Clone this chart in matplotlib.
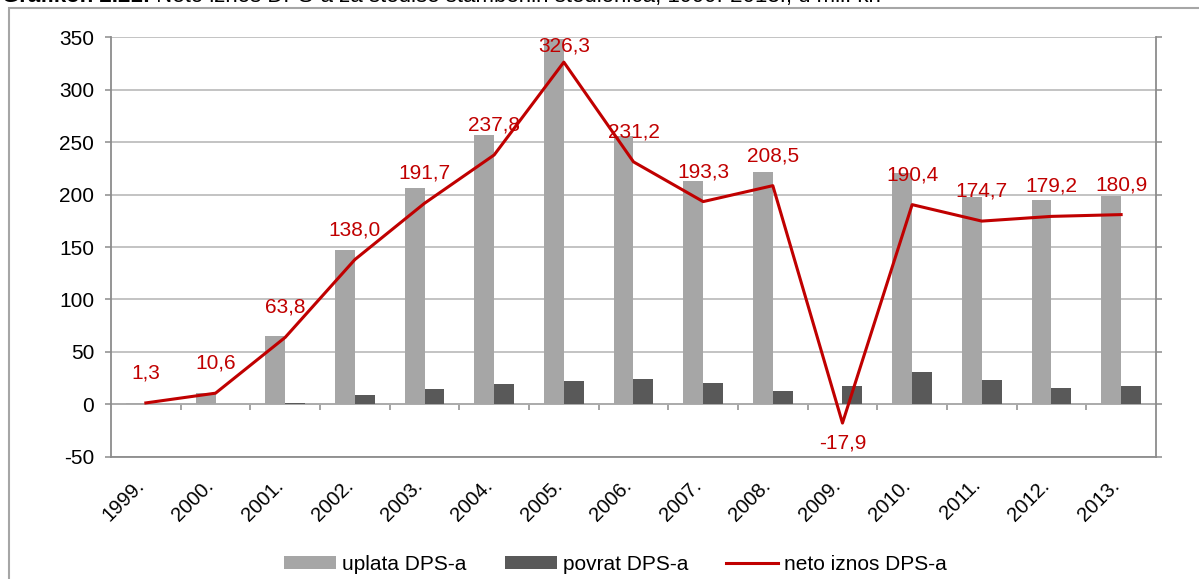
import matplotlib
matplotlib.use("Agg")
import matplotlib.pyplot as plt
import matplotlib.transforms as mtransforms
from matplotlib.patches import Rectangle
import numpy as np

plt.rcParams["font.family"] = ["Liberation Sans", "DejaVu Sans"]
plt.rcParams["axes.unicode_minus"] = False

# podaci (mil. kn)
godine = ["1999.", "2000.", "2001.", "2002.", "2003.", "2004.", "2005.", "2006.",
          "2007.", "2008.", "2009.", "2010.", "2011.", "2012.", "2013."]
uplata = [1.3, 10.6, 65.3, 146.9, 206.0, 257.2, 348.5, 255.7, 213.3, 221.2,
          0.0, 220.9, 197.7, 195.1, 198.7]
povrat = [0.0, 0.0, 1.5, 8.9, 14.3, 19.4, 22.2, 24.5, 20.0, 12.7,
          17.8, 30.5, 23.0, 15.9, 17.8]
neto = [1.3, 10.6, 63.8, 138.0, 191.7, 237.8, 326.3, 231.2, 193.3, 208.5,
        -17.9, 190.4, 174.7, 179.2, 180.9]

naslov_bold = "Grafikon 2.21:"
naslov_ostatak = " Neto iznos DPS-a za štediše stambenih štedionica, 1999.-2013., u mil. kn"

SIVA_SVIJETLA = "#A6A6A6"
SIVA_TAMNA = "#595959"
CRVENA = "#C00000"
OS_BOJA = "#8C8C8C"
FS = 15

fig = plt.figure(figsize=(11.99, 5.79), dpi=100)
ax = fig.add_axes([0.0926, 0.2112, 0.8715, 0.7244])

x = np.arange(len(godine))
w = 1 / 3.5
b1 = ax.bar(x - w / 2, uplata, w, color=SIVA_SVIJETLA, label="uplata DPS-a", zorder=2)
b2 = ax.bar(x + w / 2, povrat, w, color=SIVA_TAMNA, label="povrat DPS-a", zorder=2)
l1, = ax.plot(x, neto, color=CRVENA, lw=2.2, label="neto iznos DPS-a", zorder=3)

ax.set_xlim(-0.5, len(godine) - 0.5)
ax.set_ylim(-50, 350)
ax.set_yticks(np.arange(-50, 351, 50))
ax.yaxis.grid(True, color="#B3B3B3", lw=1.1)
ax.set_axisbelow(True)

ax.spines["top"].set_visible(False)
for s in ["left", "right", "bottom"]:
    ax.spines[s].set_color(OS_BOJA)
    ax.spines[s].set_linewidth(1.3)

ax.tick_params(axis="y", left=True, right=True, length=4, width=1.1,
               color=OS_BOJA, labelsize=FS, pad=8)
ax.set_xticks(x)
ax.set_xticklabels(godine, rotation=45, ha="right", va="top", fontsize=14.5)
ax.tick_params(axis="x", length=0, pad=13.5)
pomak = mtransforms.ScaledTranslation(2 / 100, 0, fig.dpi_scale_trans)
for lbl in ax.get_xticklabels():
    lbl.set_transform(lbl.get_transform() + pomak)

# os na nuli s crticama izmedju kategorija
nula = ax.secondary_xaxis(50 / 400)
nula.set_xticks(np.arange(0.5, len(godine) - 1), labels=[])
nula.tick_params(direction="out", length=4, width=1.1, color=OS_BOJA)
nula.spines["bottom"].set_color(OS_BOJA)
nula.spines["bottom"].set_linewidth(1.3)

# oznake vrijednosti
vrh_px = ax.transData.transform((0, 350))[1]
for xi, v in zip(x, neto):
    px = ax.transData.transform((xi, v))[1]
    if v >= 0:
        cilj = min(px + 30, vrh_px - 8.5)
    else:
        cilj = px - 20
    ax.annotate(f"{v:.1f}".replace(".", ","), (xi, v),
                xytext=(0, (cilj - px) * 72 / 100), textcoords="offset points",
                ha="center", va="center", color=CRVENA, fontsize=FS, zorder=4)

fig.legend([b1, b2, l1], ["uplata DPS-a", "povrat DPS-a", "neto iznos DPS-a"],
           loc="center", bbox_to_anchor=(615.5 / 1199, 1 - 564.5 / 579), ncol=3,
           frameon=False, fontsize=FS, handlelength=2.5, handleheight=0.53,
           handletextpad=0.29, columnspacing=1.83)

# okvir grafikona i odrezani naslov
fig.add_artist(Rectangle((8.5 / 1199, -0.5), 2, 1.5 - 8 / 579, transform=fig.transFigure,
                         fill=False, edgecolor="#A6A6A6", lw=1.5))
t1 = fig.text(2 / 1199, 1 - 2 / 579, naslov_bold, fontsize=16, fontweight="bold",
              va="baseline", ha="left")
r = fig.canvas.get_renderer()
bb = t1.get_window_extent(r)
fig.text(bb.x1 / fig.bbox.width, 1 - 2 / 579, naslov_ostatak, fontsize=16,
         va="baseline", ha="left")

fig.savefig("out.png", dpi=100)
